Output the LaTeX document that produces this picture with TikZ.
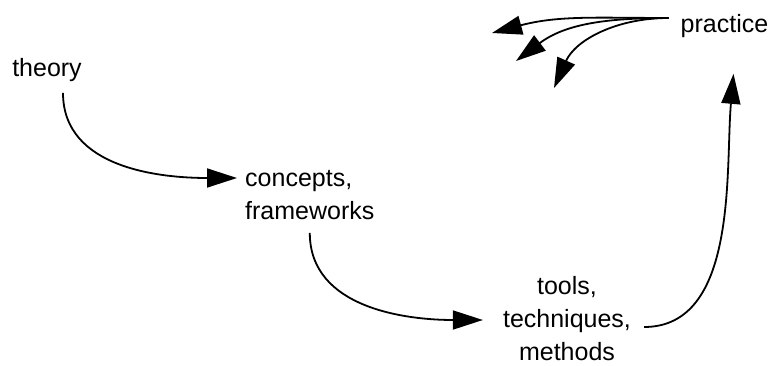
\documentclass[tikz,border=0pt]{standalone}
\usepackage{fontspec}
\setmainfont{Liberation Sans}
\usetikzlibrary{arrows.meta,positioning}

\begin{document}
\begin{tikzpicture}[x=1pt, y=1pt,
   every node/.style = {inner sep=0pt, font=\fontsize{25}{33}\selectfont},
   flow/.style = {line width=1.8pt, -{Triangle[length=30pt,width=19pt]}}]
   \useasboundingbox (0,0) rectangle (773,365);
   \node (theory)   at (47,295)    {theory};
   \node[anchor=west, align=left] (concepts) at (245,170) {concepts,\\frameworks};
   \node[align=center] (tools) at (567,46) {tools,\\techniques,\\methods};
   \node (practice) at (724.5,339) {practice};
   % loose ends of the practice arrows
   \coordinate (pa) at (492,332);
   \coordinate (pb) at (516,304);
   \coordinate (pc) at (554,277);
   \draw[flow] ([xshift=16pt,yshift=-11pt]theory.south)
      to[out=-90, in=180] ([xshift=-8pt,yshift=17pt]concepts.west);
   \draw[flow] ([yshift=-13pt]concepts.south)
      to[out=-90, in=180] ([xshift=-20pt,yshift=-1pt]tools.west);
   \draw[flow] ([xshift=13pt,yshift=-8pt]tools.east)
      to[out=0, in=-95, looseness=0.9] ([xshift=9pt,yshift=-36pt]practice.south);
   \foreach \p/\a in {pa/15, pb/37, pc/66}
     \draw[flow] ([xshift=-12pt,yshift=8pt]practice.west)
        to[out=180, in=\a] (\p);
\end{tikzpicture}
\end{document}
